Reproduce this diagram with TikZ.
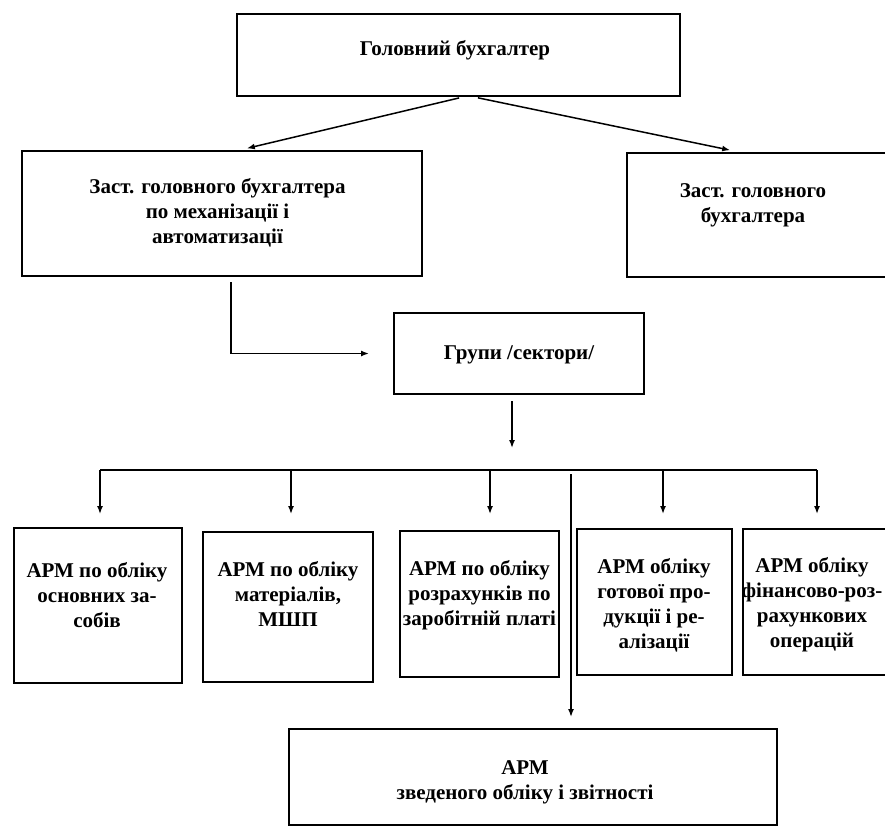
\documentclass[tikz,border=0pt]{standalone}
\usepackage{fontspec}
\setmainfont{Liberation Serif}
\usetikzlibrary{arrows.meta}
\begin{document}
\begin{tikzpicture}[x=1pt,y=-1pt,
  box/.style={draw, line width=2pt, inner sep=0pt},
  txt/.style={font=\fontsize{21}{25}\selectfont\bfseries, align=center, inner sep=0pt},
  conn/.style={line width=1.5pt},
  arr/.style={conn, -{Latex[length=8pt,width=6pt]}}]
\useasboundingbox (0,0) rectangle (885,828);
\clip (0,0) rectangle (885,828);
% boxes
\node[box, minimum width=443pt, minimum height=82pt] (gb) at (458.5,55) {};
\node[txt] (gbt) at (455,50) {Головний бухгалтер};
\node[box, minimum width=400pt, minimum height=125pt] (zl) at (222,213.5) {};
\node[txt] (zlt) at (217.5,213) {Заст. головного бухгалтера\\по механізації і\\автоматизації};
\node[box, minimum width=266pt, minimum height=124pt] (zr) at (760,215) {};
\node[txt] (zrt) at (753,205) {Заст. головного\\бухгалтера};
\node[box, minimum width=250pt, minimum height=81pt] (grp) at (519,353.5) {};
\node[txt] (grpt) at (519,355) {Групи /сектори/};
\node[box, minimum width=168pt, minimum height=155pt] (b1) at (98,605.5) {};
\node[txt] (b1t) at (97,595) {АРМ по обліку\\основних за-\\собів};
\node[box, minimum width=170pt, minimum height=150pt] (b2) at (288,607) {};
\node[txt] (b2t) at (288,594) {АРМ по обліку\\матеріалів,\\МШП};
\node[box, minimum width=159pt, minimum height=146pt] (b3) at (479.5,604) {};
\node[txt] (b3t) at (479.5,595) {АРМ по обліку\\розрахунків по\\заробітній платі};
\node[box, minimum width=155pt, minimum height=146pt] (b4) at (654.5,602) {};
\node[txt] (b4t) at (654,605) {АРМ обліку\\готової про-\\дукції і ре-\\алізації};
\node[box, minimum width=154pt, minimum height=146pt] (b5) at (820,602) {};
\node[txt] (b5t) at (812,605) {АРМ обліку\\фінансово-роз-\\рахункових\\операцій};
\node[box, minimum width=488pt, minimum height=96pt] (bot) at (533,777) {};
\node[txt] (bott) at (525,782) {АРМ\\зведеного обліку і звітності};
% connectors
\draw[arr, shorten <=4pt, shorten >=7pt] ([xshift=4.5pt]gb.south) -- ([xshift=18pt]zl.north);
\draw[arr, shorten <=4pt, shorten >=9pt] ([xshift=15.5pt]gb.south) -- ([xshift=-21pt]zr.north);
\draw[arr, shorten <=5pt, shorten >=24pt] ([xshift=9pt]zl.south) |- (grp.west);
\draw[arr, shorten <=6pt] ([xshift=-7pt]grp.south) -- ++(0,53);
\coordinate (busL) at (100,470);
\coordinate (busR) at (817,470);
\coordinate (d2) at (291,470);
\coordinate (d3) at (490,470);
\coordinate (d4) at (663,470);
\coordinate (d6) at (571,474);
\draw[conn] (busL) -- (busR);
\draw[arr, shorten >=13pt] (busL) -- (busL |- b1.north);
\draw[arr, shorten >=17pt] (d2) -- (d2 |- b2.north);
\draw[arr, shorten >=16pt] (d3) -- (d3 |- b3.north);
\draw[arr, shorten >=14pt] (d4) -- (d4 |- b4.north);
\draw[arr, shorten >=14pt] (busR) -- (busR |- b5.north);
\draw[arr, shorten >=11pt] (d6) -- (d6 |- bot.north);
\end{tikzpicture}
\end{document}
